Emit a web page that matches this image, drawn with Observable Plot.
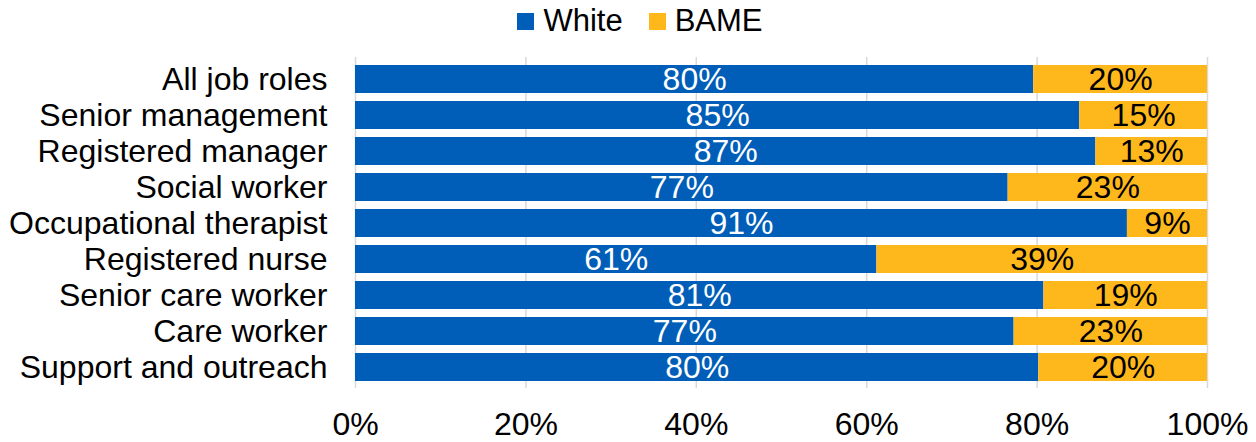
<!DOCTYPE html>
<html>
<head>
<meta charset="utf-8">
<script src="https://cdn.jsdelivr.net/npm/d3@7"></script>
<script src="https://cdn.jsdelivr.net/npm/@observablehq/plot@0.6"></script>
<style>
  html, body { margin: 0; padding: 0; background: #fff; }
  body { width: 1256px; height: 442px; overflow: hidden; font-family: "Liberation Sans", Arial, sans-serif; }
  #legend { height: 42px; display: flex; justify-content: center; align-items: center; gap: 26px; font-size: 31px; color: #000; padding-left: 24px; box-sizing: border-box; }
  #legend .item { display: flex; align-items: center; gap: 9px; }
  #legend .sw { width: 17px; height: 17px; display: inline-block; }
</style>
</head>
<body>
<div id="legend"></div>
<div id="chart"></div>
<script>
const roles = ["All job roles", "Senior management", "Registered manager", "Social worker",
  "Occupational therapist", "Registered nurse", "Senior care worker", "Care worker", "Support and outreach"];
const whiteShare = [79.6, 85.0, 86.9, 76.6, 90.6, 61.2, 80.8, 77.3, 80.2];
const bameShare = [20.4, 15.0, 13.1, 23.4, 9.4, 38.8, 19.2, 22.7, 19.8];
const groups = ["White", "BAME"];
const colors = ["#005EB8", "#FFB81C"];
const labelColors = ["#ffffff", "#000000"];
const xTicks = [0, 20, 40, 60, 80, 100];

const data = [];
roles.forEach((r, i) => {
  data.push({role: r, group: "White", value: whiteShare[i]});
  data.push({role: r, group: "BAME", value: bameShare[i]});
});

const legend = document.getElementById("legend");
groups.forEach((g, i) => {
  const it = document.createElement("span");
  it.className = "item";
  it.innerHTML = `<span class="sw" style="background:${colors[i]}"></span><span>${g}</span>`;
  legend.appendChild(it);
});

const chart = Plot.plot({
  width: 1256,
  height: 400,
  marginLeft: 355,
  marginRight: 49,
  marginTop: 15,
  marginBottom: 54,
  style: {fontFamily: "'Liberation Sans', Arial, sans-serif", fontSize: "32px", color: "#000", background: "#fff"},
  x: {domain: [0, 100], ticks: xTicks, tickFormat: d => d + "%", label: null},
  y: {domain: roles, paddingInner: 0.234, paddingOuter: 0.14, label: null},
  color: {domain: groups, range: colors},
  marks: [
    Plot.gridX(xTicks, {stroke: "#d9d9d9", strokeOpacity: 1, strokeWidth: 1.5}),
    Plot.barX(data, Plot.stackX({y: "role", x: "value", z: "group", order: groups, fill: "group"})),
    Plot.text(data, Plot.stackX({y: "role", x: "value", z: "group", order: groups,
      text: d => Math.round(d.value) + "%",
      fill: d => labelColors[groups.indexOf(d.group)],
      fontSize: 32})),
    Plot.axisY({tickSize: 0, tickPadding: 28, fontSize: 32, label: null}),
    Plot.axisX({ticks: xTicks, tickFormat: d => d + "%", tickSize: 0, tickPadding: 24, fontSize: 32, label: null})
  ]
});
document.getElementById("chart").appendChild(chart);
</script>
</body>
</html>
